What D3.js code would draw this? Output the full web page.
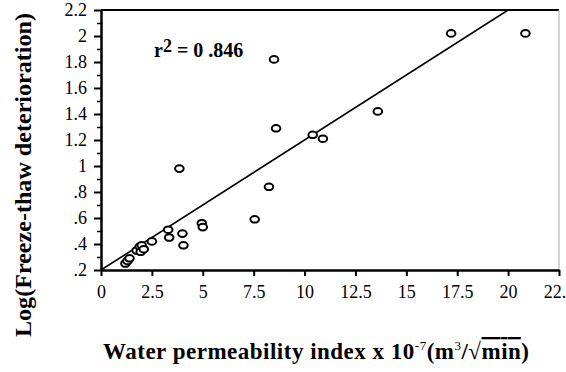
<!DOCTYPE html>
<html>
<head>
<meta charset="utf-8">
<script src="https://cdn.jsdelivr.net/npm/d3@7"></script>
<style>
  body { margin: 0; background: #fff; }
  svg { display: block; }
</style>
</head>
<body>
<div id="chart"></div>
<script>
// frame constants
const FRAME_WIDTH = 566;
const FRAME_HEIGHT = 372;
const MARGINS = {left: 101, right: 6, top: 10, bottom: 102};
const VIS_WIDTH = FRAME_WIDTH - MARGINS.left - MARGINS.right;
const VIS_HEIGHT = FRAME_HEIGHT - MARGINS.top - MARGINS.bottom;
const SERIF = "'Liberation Serif', 'Times New Roman', Times, serif";

// data
const permeability = [1.2, 1.3, 1.4, 1.75, 1.9, 2.0, 1.95, 2.1, 2.5, 3.3, 3.35, 3.85, 4.0, 4.05,
                      4.95, 5.0, 7.55, 8.25, 8.5, 8.6, 10.4, 10.9, 13.6, 17.2, 20.85];
const deterioration = [0.25, 0.27, 0.29, 0.35, 0.38, 0.39, 0.34, 0.36, 0.42, 0.51, 0.45, 0.98, 0.48, 0.39,
                       0.56, 0.53, 0.59, 0.84, 1.82, 1.29, 1.24, 1.21, 1.42, 2.02, 2.02];
const fitLine = [[0, 0.2], [20, 2.2]];
const xTicks = [0, 2.5, 5, 7.5, 10, 12.5, 15, 17.5, 20, 22.5];
const yTicks = [0.2, 0.4, 0.6, 0.8, 1, 1.2, 1.4, 1.6, 1.8, 2, 2.2];
const yMinor = [0.3, 0.5, 0.7, 0.9, 1.1, 1.3, 1.5, 1.7, 1.9, 2.1];

const points = permeability.map((v, i) => ({x: v, y: deterioration[i]}));

const svg = d3.select("#chart")
              .append("svg")
                .attr("width", FRAME_WIDTH)
                .attr("height", FRAME_HEIGHT);

// scales
const X_SCALE = d3.scaleLinear().domain([0, 22.5]).range([0, VIS_WIDTH - 1]);
const Y_SCALE = d3.scaleLinear().domain([0.2, 2.2]).range([VIS_HEIGHT, 0]);

const plot = svg.append("g")
                .attr("transform", "translate(" + MARGINS.left + "," + MARGINS.top + ")");

// frame: top black, right grey
plot.append("line")
    .attr("x1", 0).attr("x2", X_SCALE(22.5))
    .attr("y1", 0).attr("y2", 0)
    .attr("stroke", "#000").attr("stroke-width", 2);
plot.append("line")
    .attr("x1", X_SCALE(22.5)).attr("x2", X_SCALE(22.5))
    .attr("y1", 0).attr("y2", VIS_HEIGHT)
    .attr("stroke", "#aaa").attr("stroke-width", 1);

// regression line, clipped to the plot
svg.append("clipPath").attr("id", "clip")
   .append("rect").attr("width", VIS_WIDTH).attr("height", VIS_HEIGHT);
plot.append("path")
    .datum(fitLine)
    .attr("clip-path", "url(#clip)")
    .attr("d", d3.line().x(d => X_SCALE(d[0])).y(d => Y_SCALE(d[1])))
    .attr("fill", "none")
    .attr("stroke", "#000")
    .attr("stroke-width", 1.6);

// x axis
const xAxis = plot.append("g")
    .attr("transform", "translate(0," + VIS_HEIGHT + ")")
    .call(d3.axisBottom(X_SCALE).tickValues(xTicks).tickSize(6).tickSizeOuter(0)
            .tickFormat(d => String(d)));
xAxis.select(".domain").attr("stroke-width", 2.5);
xAxis.selectAll(".tick line").attr("stroke-width", 2);
xAxis.selectAll("text")
     .style("font-family", SERIF)
     .style("font-size", "18px")
     .attr("fill", "#000")
     .attr("dy", null)
     .attr("y", 28);

// y axis with minor ticks
plot.append("g")
    .call(d3.axisLeft(Y_SCALE).tickValues(yMinor).tickSize(4).tickFormat(""))
    .call(g => g.select(".domain").remove())
    .selectAll(".tick line").attr("stroke-width", 1.5);

const yAxis = plot.append("g")
    .call(d3.axisLeft(Y_SCALE).tickValues(yTicks).tickSize(7).tickSizeOuter(0)
            .tickFormat(d => d < 1 ? d3.format(".1f")(d).replace(/^0/, "") : String(d)));
yAxis.select(".domain").attr("stroke-width", 2.5);
yAxis.selectAll(".tick line").attr("stroke-width", 2);
yAxis.selectAll("text")
     .style("font-family", SERIF)
     .style("font-size", "18px")
     .attr("fill", "#000")
     .attr("x", -14)
     .attr("dy", "0.32em");

// points
plot.selectAll(".point")
    .data(points)
    .enter().append("ellipse")
      .attr("class", "point")
      .attr("cx", d => X_SCALE(d.x))
      .attr("cy", d => Y_SCALE(d.y))
      .attr("rx", 4.3)
      .attr("ry", 3.3)
      .attr("fill", "#fff")
      .attr("stroke", "#000")
      .attr("stroke-width", 2);

// r squared annotation
const r2 = svg.append("text")
    .attr("x", 154).attr("y", 57)
    .style("font-family", SERIF)
    .style("font-size", "20px").style("font-weight", "bold");
r2.append("tspan").text("r");
r2.append("tspan").style("font-size", "18px").attr("dy", -5).text("2");
r2.append("tspan").attr("dy", 5).text(" = 0 .846");

// axis titles
const xt = svg.append("text")
    .attr("x", 316).attr("y", 359)
    .attr("text-anchor", "middle")
    .attr("textLength", 426)
    .style("font-family", SERIF)
    .style("font-size", "23px").style("font-weight", "bold");
xt.append("tspan").text("Water permeability index x 10");
xt.append("tspan").style("font-size", "13px").style("font-weight", "normal").attr("dy", -9).text("-7");
xt.append("tspan").attr("dy", 9).text("(m");
xt.append("tspan").style("font-size", "13px").style("font-weight", "normal").attr("dy", -9).text("3");
xt.append("tspan").attr("dy", 9).text("/\u221A");
xt.append("tspan").style("text-decoration", "overline").text("min");
xt.append("tspan").text(")");

svg.append("text")
    .attr("transform", "translate(31,175) rotate(-90)")
    .attr("text-anchor", "middle")
    .style("font-family", SERIF)
    .style("font-size", "23px").style("font-weight", "bold")
    .attr("textLength", 324)
    .attr("lengthAdjust", "spacingAndGlyphs")
    .text("Log(Freeze-thaw deterioration)");
</script>
</body>
</html>
